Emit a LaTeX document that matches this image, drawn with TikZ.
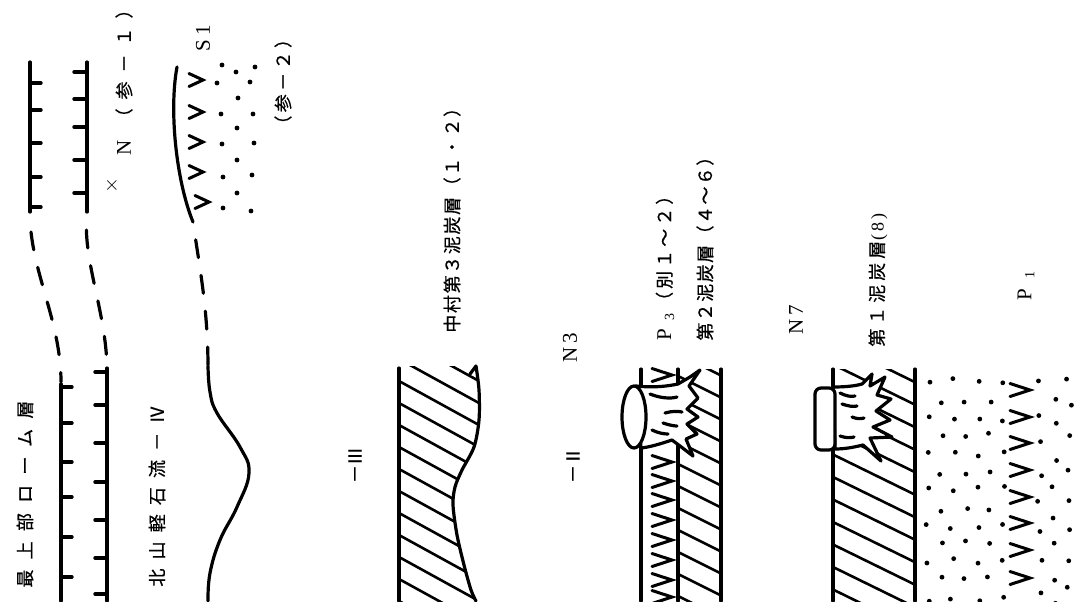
\documentclass[tikz,border=0pt]{standalone}
\usepackage{fontspec}
\setmainfont{Liberation Serif}
\newfontfamily\jp[FakeBold=0.6]{Noto Sans CJK JP}
\begin{document}
\begin{tikzpicture}[x=0.5pt,y=-0.5pt,
  stroke/.style={line width=1.6pt,line cap=round,line join=round},
  tickmark/.style={line width=1.7pt,line cap=round},
  hatchline/.style={line width=1.3pt,line cap=round},
  dashcurve/.style={line width=1.6pt,line cap=round,dash pattern=on 9pt off 9pt,dash phase=9pt},
  vlabel/.style={rotate=90,anchor=west,inner sep=0pt,font=\fontsize{9}{9}\selectfont},
  clabel/.style={rotate=90,inner sep=0pt,font=\fontsize{9}{9}\selectfont},
  latin/.style={font=\fontsize{10.5}{10.5}\selectfont},
  veelong/.pic={\draw[line width=1.5pt,line cap=round,line join=miter] (-10,-6.5) -- (10,0) -- (-10,6.5);},
  veeshort/.pic={\draw[line width=1.5pt,line cap=round,line join=miter] (-7,-6.5) -- (7,0) -- (-7,6.5);}
]
\fill[white] (0,0) rectangle (1074,601);
\useasboundingbox (0,0) rectangle (1074,601);

% ---------- boundary of the uppermost loam (ticked line) ----------
\draw[stroke] (30,62) -- (30,212);
\foreach \y in {83,110,143,177,207} \draw[tickmark] (30,\y) -- (41,\y);
\draw[dashcurve] (30,214) .. controls (30,270) and (61,320) .. (61,382);
\draw[stroke] (61,384) -- (61,601);
\foreach \y in {387,423,462,497,537,577} \draw[tickmark] (61,\y) -- (72,\y);

% ---------- boundary N (ticked line) ----------
\draw[stroke] (87,62) -- (87,212);
\foreach \y in {72,99,127,160,193} \draw[tickmark] (87,\y) -- (74,\y);
\draw[dashcurve] (87,212) .. controls (82,260) and (106,310) .. (107,368);
\draw[stroke] (107,368) -- (107,601);
\foreach \y in {372,405,443,482,520,558,594} \draw[tickmark] (107,\y) -- (95,\y);

% ---------- S1 / Kitayama pumice flow boundary ----------
\draw[stroke] (177,67) .. controls (169,110) and (176,180) .. (193,222);
\draw[dashcurve] (193,222) .. controls (200,270) and (208,310) .. (208,368);
\draw[stroke] plot[smooth,tension=0.7] coordinates {(208,366) (210,392) (217,413) (240,447) (249,473) (237,507) (220,540) (210,573) (208,601)};
\foreach \y in {80,112,142,172} \pic at (196,\y) {veeshort};
\pic at (202,202) {veeshort};
\foreach \p in {(222,65),(236,72),(255,67),(217,83),(250,82),(238,98),(221,114),(253,114),(237,128),(222,144),(254,143),(237,160),(223,177),(252,175),(237,193),(223,208),(251,211)}
  \fill \p circle[radius=1.2pt];

% ---------- layer III (hatched) ----------
\begin{scope}
  \clip (399,366) -- plot[smooth] coordinates {(476,366) (479,390) (479,420) (474,447) (462,470) (455,487) (453,505) (457,535) (464,565) (471,590) (476,603)} -- (399,603) -- cycle;
  \foreach \k in {-6,...,11} \draw[hatchline] (399,{381+22*\k}) -- (490,{381+22*\k+0.55*91});
\end{scope}
\draw[stroke] (399,368) -- (399,601);
\draw[stroke] plot[smooth] coordinates {(476,366) (479,390) (479,420) (474,447) (462,470) (455,487) (453,505) (457,535) (464,565) (471,590) (476,601)};
\draw[stroke] (476,366) -- (470,374);

% ---------- layer II with ash band, peat and stump ----------
\begin{scope}
  \clip (678,369) rectangle (721,601);
  \foreach \k in {-3,...,11} \draw[hatchline] (678,{376+22*\k}) -- (721,{376+22*\k+0.5*43});
\end{scope}
\draw[stroke] (641,369) -- (641,601);
\draw[stroke] (678,369) -- (678,601);
\draw[stroke] (721,369) -- (721,601);
\foreach \y in {375,462,481,500,520,540,560,580,597} \pic at (662,\y) {veelong};
\begin{scope}[stroke]
  \filldraw[fill=white] (636,386) .. controls (655,388) and (668,386) .. (678,384) -- (690,377) -- (700,370) -- (689,386) -- (698,398) -- (687,409) -- (698,417) -- (687,424) -- (697,434) -- (686,439) -- (693,456) -- (680,446) -- (672,440) .. controls (660,444) and (650,447) .. (641,448) -- cycle;
  \filldraw[fill=white] (634,417) ellipse[x radius=12,y radius=31];
  \draw (650,394) .. controls (660,398) and (670,399) .. (677,397);
  \draw (665,413) .. controls (672,411) and (678,411) .. (682,412);
  \draw (663,423) .. controls (669,425) and (674,426) .. (677,426);
  \draw (652,430) .. controls (658,433) and (664,434) .. (668,434);
\end{scope}

% ---------- lowest peat, stump and pumice fall P1 ----------
\begin{scope}
  \clip (833,369) rectangle (915,601);
  \foreach \k in {-7,...,6} \draw[hatchline] (833,{477+22.5*\k}) -- (915,{477+22.5*\k+0.49*82});
\end{scope}
\draw[stroke] (833,369) -- (833,601);
\draw[stroke] (915,369) -- (915,601);
\begin{scope}[stroke]
  \filldraw[fill=white] (833,387) .. controls (845,387) and (855,386) .. (862,384) -- (872,374) -- (870,386) -- (885,377) -- (877,395) -- (891,399) -- (876,411) -- (890,420) -- (873,427) -- (892,437) -- (870,438) -- (881,461) -- (863,445) .. controls (855,447) and (845,449) .. (835,449) -- cycle;
  \filldraw[fill=white,rounded corners=3pt] (815,388) rectangle (835,450);
  \draw (840,393) .. controls (846,396) and (851,397) .. (855,396);
  \draw (842,404) .. controls (848,406) and (853,407) .. (857,406);
  \draw (852,417) .. controls (857,419) and (861,419) .. (864,418);
  \draw (840,436) .. controls (846,438) and (850,438) .. (854,437);
\end{scope}
\pgfmathsetseed{11}
\foreach \i in {0,...,6}{
  \foreach \j in {0,...,6}{
    \pgfmathsetmacro\dx{928+12.3*\i+3*rand}
    \pgfmathsetmacro\dy{382+36*\j+18*mod(\i,2)+4*rand}
    \fill (\dx,\dy) circle[radius=1.2pt];
  }
}
\foreach \i/\off in {0/384,1/397,2/379}{
  \foreach \j in {0,...,7}{
    \pgfmathsetmacro\dx{1040+14.5*\i+2.5*rand}
    \pgfmathsetmacro\dy{\off+30*\j+4*rand}
    \fill (\dx,\dy) circle[radius=1.2pt];
  }
}
\foreach \y in {390,417,443,470,497,523,550,578} \pic at (1020,\y) {veelong};

% ---------- labels ----------
\node[vlabel] (loam) at (25,588) {\jp\addfontfeatures{LetterSpace=57}最上部ローム層};
\node[vlabel] (kitayama) at (157,587) {\jp\addfontfeatures{LetterSpace=51}北山軽石流－Ⅳ};
\node[clabel] (unitIII) at (355,465) {\jp －Ⅲ};
\node[clabel] (unitII) at (573,465) {\jp －Ⅱ};
\node[vlabel] (peatthree) at (452,333) {\jp\addfontfeatures{LetterSpace=9}中村第３泥炭層（１・２）};
\node[clabel,latin] (nthree) at (570,348) {N\kern2pt3};
\node[vlabel] (pthree) at (665,341) {{\fontsize{10.5}{10.5}\selectfont P}\kern4pt\raisebox{-1.5pt}{\fontsize{7}{7}\selectfont 3}\kern2pt{\jp\addfontfeatures{LetterSpace=17}（別１〜２）}};
\node[vlabel] (peattwo) at (705,341) {\jp\addfontfeatures{LetterSpace=8}第２泥炭層（４〜６）};
\node[clabel,latin] (nseven) at (796,320) {N\kern2pt7};
\node[vlabel] (peatone) at (878,347) {{\jp\addfontfeatures{LetterSpace=22}第１泥炭層}(\,8\,)};
\node[vlabel] (pone) at (1026,301) {{\fontsize{10.5}{10.5}\selectfont P}\kern5pt\raisebox{-1.5pt}{\fontsize{7}{7}\selectfont 1}};
\node[clabel,latin] (sone) at (203,38) {S\kern2pt1};
\node[inner sep=0pt,font=\fontsize{10}{10}\selectfont] (cross) at (112,185) {$\times$};
\node[vlabel] (nref) at (124,156) {{\fontsize{10.5}{10.5}\selectfont N}\kern7pt{\jp\addfontfeatures{LetterSpace=50}（参－１）}};
\node[vlabel] (sref) at (283,134) {\jp\addfontfeatures{LetterSpace=19}（参－２）};
\end{tikzpicture}
\end{document}
